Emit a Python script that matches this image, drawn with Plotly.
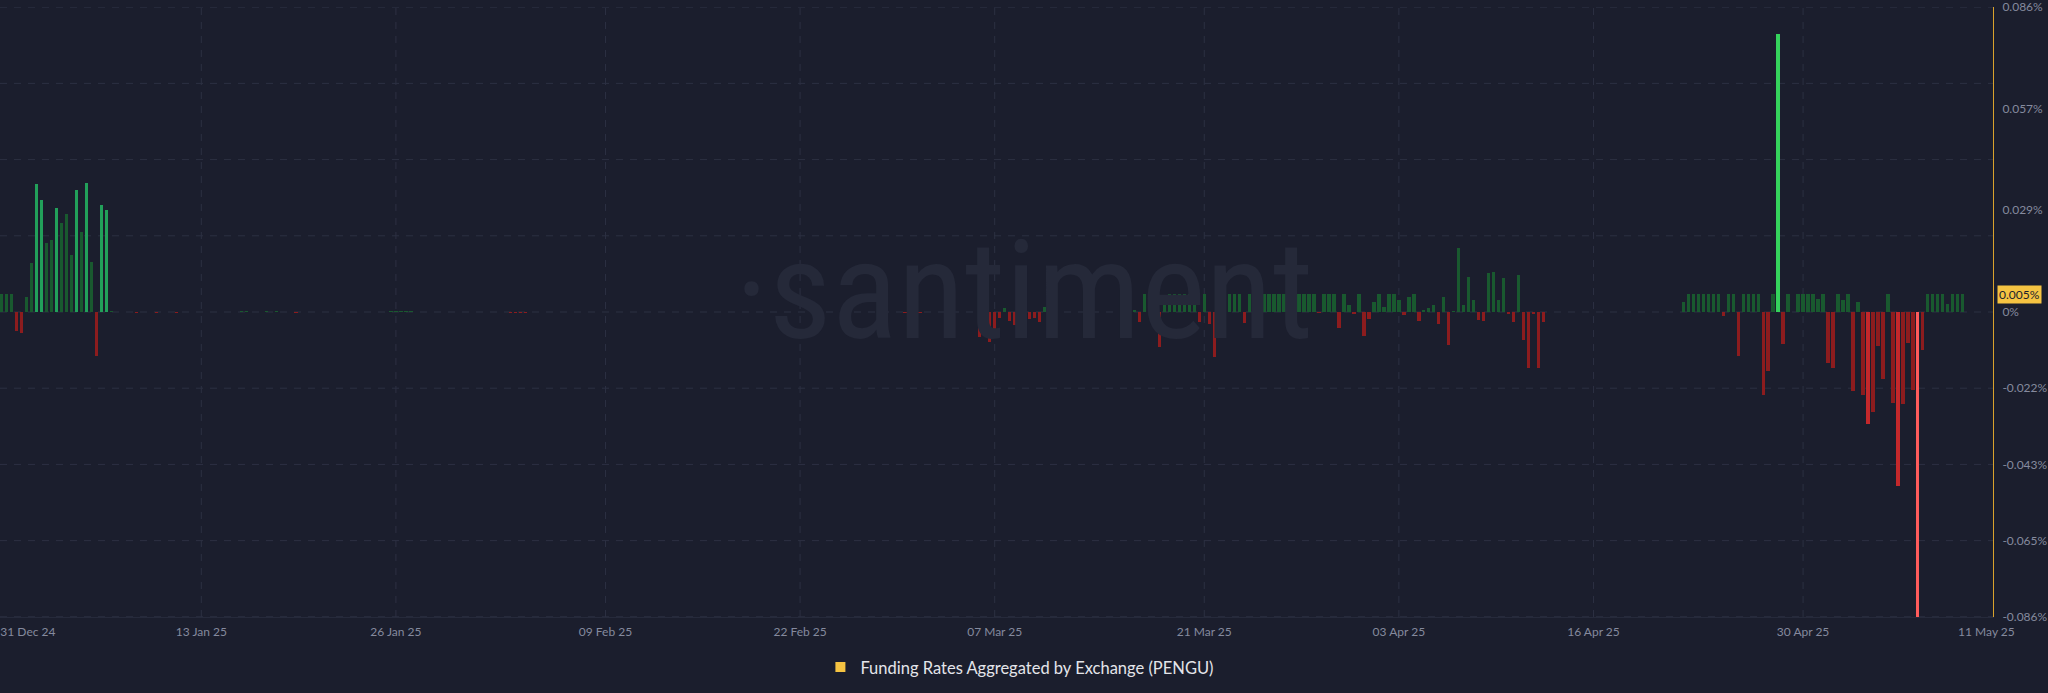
import pandas as pd
import plotly.graph_objects as go

# ---------------- data (8-hour funding rate, %) ----------------
START_TIME = "2024-12-30 16:00"
STEP = "8h"

SEG_DEC_JAN = [0.0051, 0.0051, 0.0051, -0.0055, -0.0059, 0.0043, 0.0139, 0.0362, 0.0316, 0.0194,
               0.0204, 0.0293, 0.0250, 0.0277, 0.0162, 0.0343, 0.0225, 0.0364, 0.0141, -0.0123,
               0.0302, 0.0288]

SEG_QUIET = [0.0002, 0, 0, 0, 0, -0.0002, 0, 0, 0, -0.0002,
             0, 0, 0, -0.0002, 0, 0, 0, 0, 0, 0,
             0, 0, 0, 0, 0, 0, 0.0002, 0.0002, 0, 0,
             0, 0.0002, 0, 0.0002, 0, 0, 0, -0.0002, 0, 0,
             0, 0, 0, 0, 0, 0, 0, 0, 0, 0,
             0, 0, 0, 0, 0, 0, 0.0002, 0.0002, 0.0002, 0.0002,
             0.0002, 0, 0, 0, 0, 0, 0, 0, 0, 0,
             0, 0, 0, 0, 0, 0, 0, 0, 0, 0,
             -0.0002, -0.0002, -0.0002, -0.0002, 0, 0, 0, 0, 0, 0,
             0, 0, 0, 0, 0, 0, 0, 0, 0, 0,
             0, 0, 0, 0, 0, 0, 0, 0, 0, 0,
             0, 0, 0, 0, 0, 0, 0, 0, 0, 0,
             0, 0, 0, 0, 0, 0, 0, 0, 0, 0,
             0, 0, 0, 0, 0, 0, 0, 0, 0, 0,
             0, 0, 0, 0, 0, 0, 0, 0, 0, 0,
             0, 0, 0, 0, 0, 0, 0, 0, 0, -0.0002,
             -0.0002, -0.0002, -0.0002, 0, 0, 0, 0, 0, 0, 0,
             0, 0, 0, 0]

SEG_EARLY_MAR = [-0.0070, -0.0068, -0.0086, -0.0047, -0.0018, 0.0012, -0.0025, -0.0037, -0.0014, 0.0012,
                 -0.0019, -0.0016, -0.0028, 0.0015, 0.0042]

SEG_MID_MAR = [0, 0, 0, 0, 0, 0, 0, 0, 0, 0, 0, 0, 0, 0, 0]

SEG_MAR_APR = [0.0050, 0.0006, -0.0028, 0.0050, 0.0050, 0.0050, -0.0098, 0.0034, 0.0050, 0.0050,
               0.0050, 0.0050, 0.0050, 0.0024, -0.0028, 0.0050, -0.0033, -0.0126, 0.0050, 0.0050,
               0.0050, 0.0050, 0.0050, -0.0030, 0.0050, 0.0050, 0.0050, 0.0050, 0.0050, 0.0050,
               0.0050, 0.0050, 0.0050, 0.0050, 0.0050, 0.0050, 0.0050, 0.0050, -0.0002, 0.0050,
               0.0050, 0.0050, -0.0046, 0.0050, 0.0020, -0.0004, 0.0050, -0.0067, -0.0019, 0.0029,
               0.0050, 0.0015, 0.0050, 0.0050, 0.0033, -0.0008, 0.0041, 0.0050, -0.0025, 0.0003,
               0.0010, 0.0021, -0.0035, 0.0041, -0.0093, 0.0001, 0.0181, 0.0021, 0.0100, 0.0035,
               -0.0022, -0.0025, 0.0111, 0.0112, 0.0033, 0.0096, -0.0007, -0.0028, 0.0103, -0.0080,
               -0.0159, -0.0006, -0.0159, -0.0028]

SEG_MID_APR = [0, 0, 0, 0, 0, 0, 0, 0, 0, 0, 0, 0, 0, 0, 0, 0, 0, 0, 0, 0, 0, 0, 0, 0, 0, 0, 0]

SEG_LATE_APR_MAY = [0.0029, 0.0050, 0.0050, 0.0050, 0.0050, 0.0050, 0.0050, 0.0050, -0.0011, 0.0050,
                    0.0050, -0.0125, 0.0050, 0.0050, 0.0050, 0.0050, -0.0235, -0.0166, 0.0050, 0.0785,
                    -0.0090, 0.0050, 0, 0.0050, 0.0050, 0.0050, 0.0050, 0.0036, 0.0050, -0.0145,
                    -0.0157, 0.0050, 0.0034, 0.0050, -0.0224, 0.0028, -0.0235, -0.0316, -0.0282, -0.0097,
                    -0.0190, 0.0050, -0.0258, -0.0490, -0.0260, -0.0087, -0.0221, -0.0860, -0.0107, 0.0050,
                    0.0050, 0.0050, 0.0050, 0.0022, 0.0050, 0.0050, 0.0050]

Y_TICK_VALS = [0.086, 0.0573, 0.0287, 0, -0.0215, -0.043, -0.0645, -0.086]
Y_TICK_TEXT = ["0.086%", "0.057%", "0.029%", "0%", "-0.022%", "-0.043%", "-0.065%", "-0.086%"]

X_TICK_LABELS = ["31 Dec 24", "13 Jan 25", "26 Jan 25", "09 Feb 25", "22 Feb 25", "07 Mar 25",
                 "21 Mar 25", "03 Apr 25", "16 Apr 25", "30 Apr 25", "11 May 25"]
X_TICK_POS = ["2025-01-01 10:00", "2025-01-13", "2025-01-26", "2025-02-09", "2025-02-22", "2025-03-07",
              "2025-03-21", "2025-04-03", "2025-04-16", "2025-04-30", "2025-05-12 06:00"]

LEGEND_NAME = "Funding Rates Aggregated by Exchange (PENGU)"

# ---------------- build ----------------
values = (SEG_DEC_JAN + SEG_QUIET + SEG_EARLY_MAR + SEG_MID_MAR + SEG_MAR_APR
          + SEG_MID_APR + SEG_LATE_APR_MAY)
times = pd.date_range(START_TIME, periods=len(values), freq=STEP)

Y_MAX = 0.086
BG = "#1b1e2d"
GRID = "#2c3042"
TICK_COL = "#858a9e"


def bar_color(v):
    m = abs(v) / Y_MAX
    if v >= 0:
        if m > 2 / 3:
            return "#35d35c"
        if m >= 1 / 3:
            return "#22a05a"
        return "#19592f"
    if m > 2 / 3:
        return "#ff5b5b"
    if m >= 1 / 3:
        return "#c3282b"
    return "#8c1c1e"


colors = [bar_color(v) for v in values]

fig = go.Figure()
fig.add_trace(go.Bar(
    x=times, y=values, marker=dict(color=colors, line=dict(width=0)),
    width=5.3 * 3600 * 1000, showlegend=False, hoverinfo="x+y",
))
fig.add_trace(go.Scatter(
    x=[None], y=[None], mode="markers", name=LEGEND_NAME,
    marker=dict(symbol="square", size=10, color="#f5c342"),
))

shapes = []
for k in range(-4, 5):
    yv = k * Y_MAX / 4
    shapes.append(dict(type="line", xref="paper", x0=0, x1=1, yref="y", y0=yv, y1=yv,
                       line=dict(color=GRID, width=1, dash="7px,7px"), layer="below"))
for pos in X_TICK_POS[1:-1]:
    shapes.append(dict(type="line", xref="x", x0=pos, x1=pos, yref="paper", y0=0, y1=1,
                       line=dict(color=GRID, width=1, dash="7px,7px"), layer="below"))

fig.update_layout(
    width=2048, height=693,
    paper_bgcolor=BG, plot_bgcolor=BG,
    margin=dict(l=0, r=55, t=7, b=76),
    font=dict(family="Lato, Open Sans, sans-serif", color=TICK_COL, size=12),
    shapes=shapes,
    bargap=0,
    showlegend=True,
    legend=dict(orientation="h", xref="container", yref="container", x=0.498, y=0.037,
                xanchor="center", yanchor="middle",
                font=dict(size=16.5, color="#e4e5ea"), bgcolor="rgba(0,0,0,0)"),
    annotations=[
        dict(text="·santiment", xref="paper", yref="paper", x=0.514, y=0.535,
             xanchor="center", yanchor="middle", showarrow=False,
             font=dict(size=138, color="#252939",
                       family="Liberation Sans Narrow, Roboto Condensed, Roboto, sans-serif")),
        dict(text=f"{values[-1]:.3f}%", xref="paper", yref="y", x=1, y=values[-1],
             xanchor="left", yanchor="middle", xshift=4, showarrow=False,
             bgcolor="#f5c342", borderpad=1,
             font=dict(size=12, color="#1b1e2d")),
    ],
)

fig.update_xaxes(
    type="date",
    range=["2024-12-30 13:16", "2025-05-12 16:30"],
    tickvals=X_TICK_POS, ticktext=X_TICK_LABELS,
    showgrid=False, zeroline=False, ticks="",
    showline=True, linecolor="#262a3b", linewidth=1,
    ticklabelstandoff=4, ticklabeloverflow="allow",
    tickfont=dict(size=12, color=TICK_COL),
)
fig.update_yaxes(
    range=[-Y_MAX * 1.0006, Y_MAX * 1.0006], side="right",
    tickvals=Y_TICK_VALS, ticktext=Y_TICK_TEXT,
    showgrid=False, zeroline=False, ticks="",
    showline=True, linecolor="#d9a22c", linewidth=1,
    ticklabelstandoff=6, ticklabeloverflow="allow",
    tickfont=dict(size=12, color=TICK_COL),
)

fig.write_html(
    "out.html",
    config={"displayModeBar": False},
    post_script=f"document.body.style.margin='0';document.body.style.background='{BG}';",
)
